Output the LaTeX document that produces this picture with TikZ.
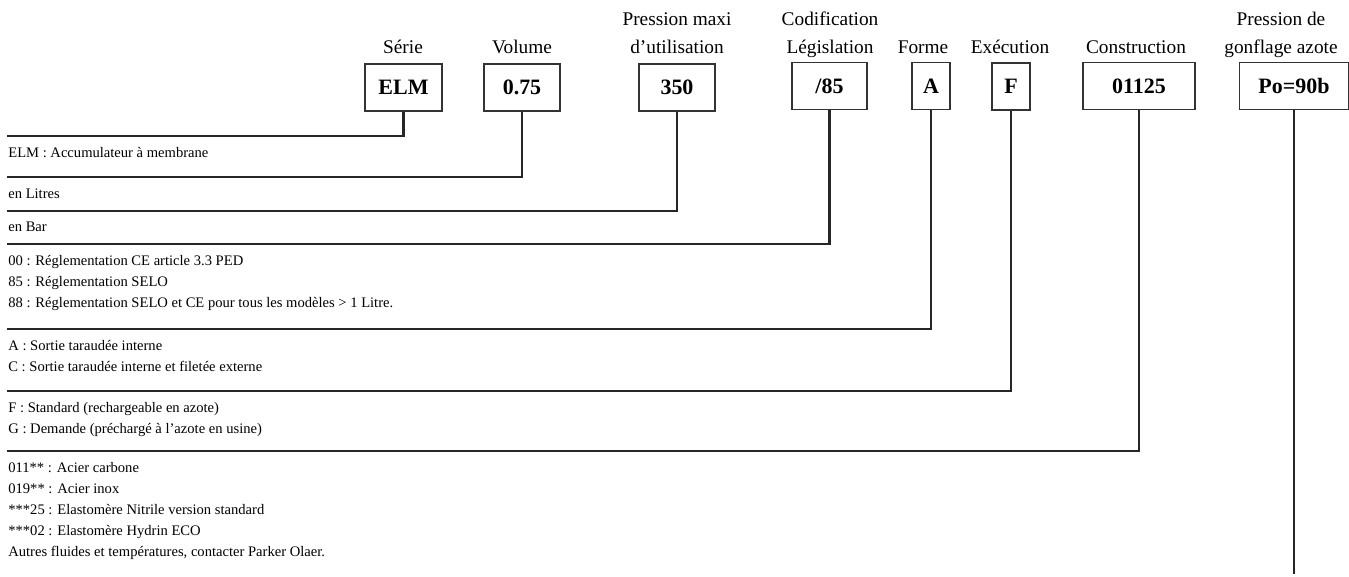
\documentclass[tikz,border=0pt]{standalone}
\usepackage{fontspec}
\setmainfont{Liberation Serif}
\usepackage{tikz}
\usetikzlibrary{positioning}

\begin{document}
\begin{tikzpicture}[
    x=0.02cm, y=-0.02cm,
    every node/.style={inner sep=0pt},
    head/.style={font=\fontsize{11}{15.9}\selectfont, align=center, anchor=base},
    code/.style={rectangle, draw=black!80, line width=0.6pt, minimum height=0.94cm, font=\fontsize{12.5}{15}\selectfont\bfseries},
    desc/.style={font=\fontsize{8.3}{11.95}\selectfont, align=left, anchor=base west},
    lead/.style={draw=black!85, line width=1.4pt},
]
\useasboundingbox (0,0) rectangle (1349,576);

% Headers (anchor = base of last line)
\node[head] (hELM) at (403,53) {Série};
\node[head] (hVol) at (522,53) {Volume};
\node[head] (hPr) at (677,53) {Pression maxi\\d’utilisation};
\node[head] (hCod) at (830,53) {Codification\\Législation};
\node[head] (hA) at (923,53) {Forme};
\node[head] (hF) at (1010,53) {Exécution};
\node[head] (hCon) at (1136,53) {Construction};
\node[head] (hPo) at (1281,53) {Pression de\\gonflage azote};

% Code boxes
\node[code, minimum width=1.54cm] (bELM) at (403.5,87.5) {ELM};
\node[code, minimum width=1.52cm] (bVol) at (522,87.5) {0.75};
\node[code, minimum width=1.52cm] (bPr) at (677,87.5) {350};
\node[code, minimum width=1.50cm] (bCod) at (829.5,86) {/85};
\node[code, minimum width=0.76cm] (bA) at (931,86) {A};
\node[code, minimum width=0.76cm] (bF) at (1011,86.5) {F};
\node[code, minimum width=2.24cm] (bCon) at (1139,86) {01125};
\node[code, minimum width=2.18cm] (bPo) at (1294,86) {Po=90b};

% Line ends on the left
\coordinate (eELM) at (7,136);
\coordinate (eVol) at (7,177);
\coordinate (ePr) at (7,211);
\coordinate (eCod) at (7,244);
\coordinate (eA) at (7,329);
\coordinate (eF) at (7,391);
\coordinate (eCon) at (7,451);
\coordinate (ePo) at (1294,574);

% Descriptions (anchor = base of last line)
\node[desc] (dELM) at (8,157) {ELM : Accumulateur à membrane};
\node[desc] (dVol) at (8,198) {en Litres};
\node[desc] (dPr) at (8,231) {en Bar};
\node[desc] (dCod) at (8,307)
  {00 : Réglementation CE article 3.3 PED\\
   85 : Réglementation SELO\\
   88 : Réglementation SELO et CE pour tous les modèles > 1 Litre.};
\node[desc] (dA) at (8,371)
  {A : Sortie taraudée interne\\
   C : Sortie taraudée interne et filetée externe};
\node[desc] (dF) at (8,433)
  {F : Standard (rechargeable en azote)\\
   G : Demande (préchargé à l’azote en usine)};
\node[desc] (dCon) at (8,556)
  {011** : Acier carbone\\
   019** : Acier inox\\
   ***25 : Elastomère Nitrile version standard\\
   ***02 : Elastomère Hydrin ECO\\
   Autres fluides et températures, contacter Parker Olaer.};

% Leads from each box
\draw[lead] (bELM.south) |- (eELM);
\draw[lead] (bVol.south) |- (eVol);
\draw[lead] (bPr.south) |- (ePr);
\draw[lead] (bCod.south) |- (eCod);
\draw[lead] (bA.south) |- (eA);
\draw[lead] (bF.south) |- (eF);
\draw[lead] (bCon.south) |- (eCon);
\draw[lead] (bPo.south) -- (ePo);
\end{tikzpicture}
\end{document}
